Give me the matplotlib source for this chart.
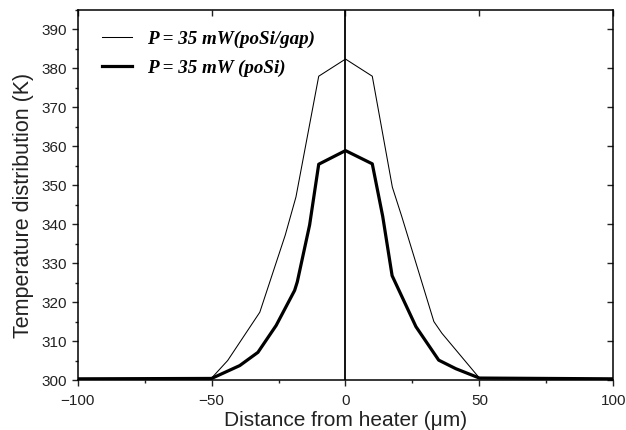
import matplotlib
matplotlib.use("Agg")
import matplotlib.pyplot as plt
from matplotlib.ticker import MultipleLocator

# Data
gap_x = [-100, -50, -44, -32, -22.5, -18.5, -10, 0, 10, 17.5, 21, 33, 36, 50, 100]
gap_y = [300.3, 300.5, 305, 317.4, 337.2, 347, 378, 382.4, 378, 349.5, 342, 315, 312, 300.5, 300.3]

posi_x = [-100, -50, -39.5, -32.7, -25.9, -19, -18, -13.4, -10, 0, 10, 13.9, 17.4, 26.3, 34.8, 41.2, 50, 100]
posi_y = [300.3, 300.4, 303.7, 307.1, 314.0, 323.0, 325.2, 339.8, 355.4, 358.9, 355.5, 342, 326.8, 313.7, 305.1, 302.9, 300.5, 300.3]

labels = ["P = 35 mW(poSi/gap)", "P = 35 mW (poSi)"]
xlabel = "Distance from heater (\u03bcm)"
ylabel = "Temperature distribution (K)"
yticks = list(range(300, 400, 10))

plt.rcParams['font.family'] = ['Liberation Sans', 'DejaVu Sans']

fig = plt.figure(figsize=(6.26, 4.30), dpi=100)
ax = fig.add_axes([77.7/626, 1 - 380/430, (613.3-77.7)/626, (380-10)/430])

ax.plot(gap_x, gap_y, color='black', lw=0.75, label=labels[0])
ax.plot(posi_x, posi_y, color='black', lw=2.3, label=labels[1])
ax.axvline(0, color='black', lw=1.3)

ax.set_xlim(-100, 100)
ax.set_ylim(300, 395)
ax.xaxis.set_major_locator(MultipleLocator(50))
ax.xaxis.set_minor_locator(MultipleLocator(25))
ax.set_yticks(yticks)
ax.set_yticklabels([str(v) for v in yticks])
ax.yaxis.set_minor_locator(MultipleLocator(5))

for s in ax.spines.values():
    s.set_linewidth(1.1)

ax.tick_params(axis='both', which='both', direction='out', width=1.0, labelsize=11, colors='#222222')
ax.tick_params(which='major', length=4)
ax.tick_params(which='minor', length=2.5)
ax.tick_params(axis='x', pad=6)
ax.tick_params(axis='y', pad=4)
ax.tick_params(top=True, right=True, labeltop=False, labelright=False)
for t in ax.xaxis.get_major_ticks() + ax.xaxis.get_minor_ticks():
    t.tick2line.set_marker(3)  # pointing down (inward at top)
for t in ax.yaxis.get_major_ticks() + ax.yaxis.get_minor_ticks():
    t.tick2line.set_marker(0)  # pointing left (inward at right)

ax.set_xlabel(xlabel, fontsize=15, color='#222222', labelpad=2)
ax.set_ylabel(ylabel, fontsize=15.5, color='#222222')
ax.yaxis.set_label_coords(-0.082, 0.472)

leg = ax.legend(loc='upper left', bbox_to_anchor=(0.045, 0.944), frameon=False,
                handlelength=1.6, handletextpad=0.8, labelspacing=0.6,
                borderpad=0, borderaxespad=0,
                prop={'family': 'Liberation Serif', 'weight': 'bold', 'style': 'italic', 'size': 13.7})

fig.savefig("out.png", dpi=100)
